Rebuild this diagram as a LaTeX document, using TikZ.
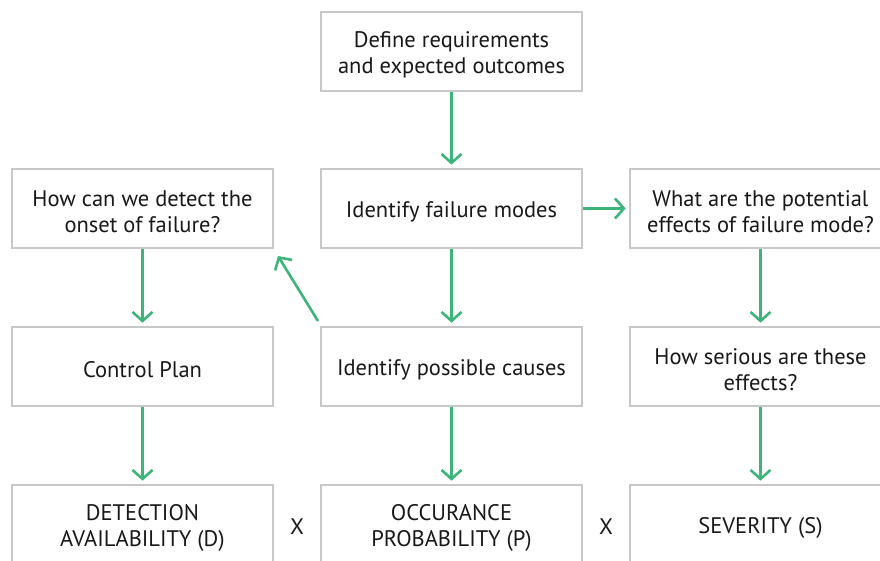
\documentclass[tikz,border=0pt]{standalone}
\usepackage{fontspec}
\setmainfont{PT Sans}
\usetikzlibrary{arrows.meta}
\definecolor{boxgray}{HTML}{C8C8C8}
\definecolor{arrgreen}{HTML}{3DB57A}
\begin{document}
\begin{tikzpicture}[x=1pt,y=-1pt,
  box/.style={draw=boxgray,line width=2.6pt,fill=white,minimum width=261pt,minimum height=79pt,inner sep=0pt},
  lbl/.style={align=center,inner sep=0pt,yshift=-3pt,font=\fontsize{22.5}{26}\selectfont,text=black!90},
  arr/.style={draw=arrgreen,line width=2.6pt,-{Straight Barb[length=9pt,width=20pt,line width=2.6pt]}},
  mult/.style={font=\fontsize{22.5}{26}\selectfont,text=black!90}]
\useasboundingbox (0,0) rectangle (880,560);
\clip (0,0) rectangle (880,560);
\node[box,label={[lbl]center:{Define requirements\\and expected outcomes}}] (def) at (451.5,51.5) {};
\node[box,label={[lbl]center:{How can we detect the\\onset of failure?}}] (det) at (142.5,208.5) {};
\node[box,label={[lbl]center:{Identify failure modes}}] (ifm) at (451.5,208.5) {};
\node[box,label={[lbl]center:{What are the potential\\effects of failure mode?}}] (eff) at (760.5,208.5) {};
\node[box,label={[lbl]center:{Control Plan}}] (cp) at (142.5,366.5) {};
\node[box,label={[lbl]center:{Identify possible causes}}] (ipc) at (451.5,366.5) {};
\node[box,label={[lbl]center:{How serious are these\\effects?}}] (ser) at (760.5,366.5) {};
\node[box,label={[lbl]center:{DETECTION\\AVAILABILITY (D)}}] (dd) at (142.5,524.5) {};
\node[box,label={[lbl]center:{OCCURANCE\\PROBABILITY (P)}}] (op) at (451.5,524.5) {};
\node[box,label={[lbl]center:{SEVERITY (S)}}] (ss) at (760.5,524.5) {};
\node[mult] (x1) at (297,527) {X};
\node[mult] (x2) at (606,527) {X};
\draw[arr] (def.south) -- ([yshift=3pt]ifm.north);
\draw[arr] (ifm.east) -- ([xshift=-3pt]eff.west);
\draw[arr] (det.south) -- ([yshift=3pt]cp.north);
\draw[arr] (ifm.south) -- ([yshift=3pt]ipc.north);
\draw[arr] (eff.south) -- ([yshift=3pt]ser.north);
\draw[arr] (cp.south) -- ([yshift=3pt]dd.north);
\draw[arr] (ipc.south) -- ([yshift=3pt]op.north);
\draw[arr] (ser.south) -- ([yshift=3pt]ss.north);
\coordinate (dstart) at (318,321);
\draw[arr] (dstart) -- (278,256);
\end{tikzpicture}
\end{document}
